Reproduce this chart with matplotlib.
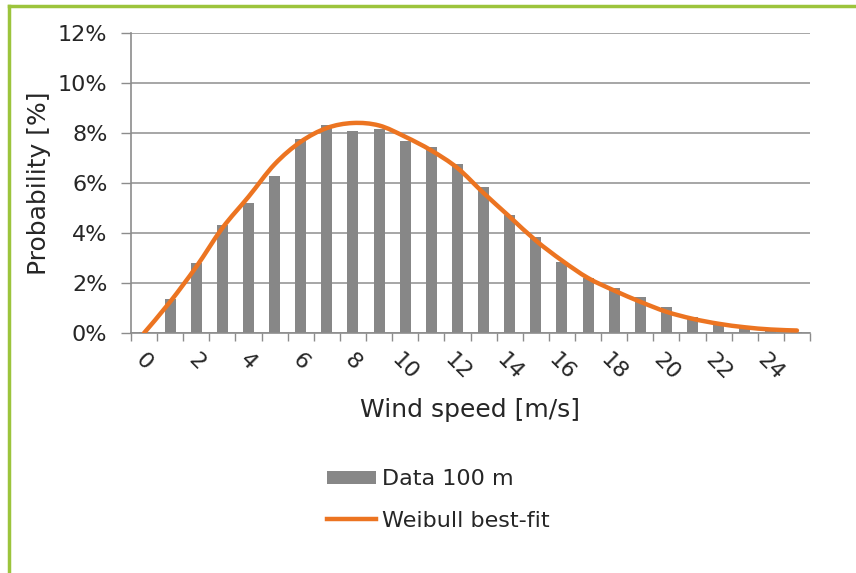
import numpy as np
import matplotlib.pyplot as plt
from matplotlib.lines import Line2D
from matplotlib.patches import Patch, PathPatch
from matplotlib.path import Path
from matplotlib.ticker import FuncFormatter

# wind speed bins (m/s) and measured frequency at 100 m
speed = list(range(26))
data_100m = [0.05, 1.35, 2.8, 4.33, 5.2, 6.3, 7.75, 8.3, 8.07, 8.17, 7.7, 7.45, 6.75,
             5.85, 4.72, 3.84, 2.85, 2.2, 1.8, 1.45, 1.03, 0.65, 0.41, 0.25, 0.12, 0.05]
# fitted weibull distribution, same bins
weibull_fit = [0.0, 1.25, 2.65, 4.2, 5.45, 6.75, 7.65, 8.2, 8.4, 8.3, 7.85, 7.3, 6.6,
               5.6, 4.65, 3.7, 2.9, 2.2, 1.7, 1.25, 0.85, 0.57, 0.37, 0.23, 0.14, 0.1]

plt.rcParams['font.family'] = 'DejaVu Sans'
txt = '#262626'
axcol = '#8c8c8c'
bar_col = '#878787'
line_col = '#ec7421'


def smooth_path(xs, ys):
    # spreadsheet-style smoothed line: cubic bezier through every point
    pts = np.column_stack([xs, ys]).astype(float)
    verts = [pts[0]]
    codes = [Path.MOVETO]
    n = len(pts)
    for i in range(n - 1):
        p0 = pts[max(i - 1, 0)]
        p1 = pts[i]
        p2 = pts[i + 1]
        p3 = pts[min(i + 2, n - 1)]
        verts += [p1 + (p2 - p0) / 6, p2 - (p3 - p1) / 6, p2]
        codes += [Path.CURVE4] * 3
    return Path(verts, codes)


fig = plt.figure(figsize=(8.56, 5.73), dpi=100)
ax = fig.add_axes([131/856, 1 - 333/573, (810 - 131)/856, 300/573])

x = np.arange(len(speed))
ax.bar(x, data_100m, width=0.42, color=bar_col, zorder=2)
ax.add_patch(PathPatch(smooth_path(x, weibull_fit), fill=False, edgecolor=line_col,
                       lw=3.2, capstyle='round', zorder=3))

ax.set_xlim(-0.5, len(speed) - 0.5)
ax.set_ylim(0, 12)
ax.set_yticks(np.arange(0, 13, 2))
ax.yaxis.set_major_formatter(FuncFormatter(lambda v, p: f'{v:.0f}%'))
ax.grid(axis='y', color='#a6a6a6', lw=1.4, zorder=0)

# ticks between categories, labels on every second bin
ax.set_xticks(np.arange(-0.5, len(speed), 1))
ax.set_xticklabels([])
ax.set_xticks(x[::2], minor=True)
ax.set_xticklabels([str(s) for s in speed[::2]], minor=True, rotation=-45,
                   ha='center', va='top', fontsize=16, color=txt)
ax.tick_params(axis='x', which='major', length=6, color=axcol, width=1)
ax.tick_params(axis='x', which='minor', length=0, pad=12)
ax.tick_params(axis='y', length=7, color=axcol, width=1, labelsize=16,
               labelcolor=txt, pad=10)

for s in ['top', 'right']:
    ax.spines[s].set_visible(False)
for s in ['left', 'bottom']:
    ax.spines[s].set_color(axcol)
    ax.spines[s].set_linewidth(1.2)

ax.set_xlabel('Wind speed [m/s]', fontsize=18, color=txt, labelpad=10)
ax.set_ylabel('Probability [%]', fontsize=18, color=txt, labelpad=5)

handles = [Patch(facecolor=bar_col, label='Data 100 m'),
           Line2D([], [], color=line_col, lw=3.2, label='Weibull best-fit')]
fig.legend(handles=handles, loc='upper left', bbox_to_anchor=(316/856, 1 - 458/573),
           frameon=False, fontsize=16, handlelength=2.2, handleheight=0.55,
           handletextpad=0.25, labelspacing=0.97, borderpad=0, labelcolor=txt)

# green frame
fig.add_artist(Line2D([9/856, 1], [1 - 6/573, 1 - 6/573], color='#9cc43c', lw=2.5))
fig.add_artist(Line2D([9/856, 9/856], [0, 1 - 6/573], color='#9cc43c', lw=2.5))

fig.savefig('out.png', dpi=100)
